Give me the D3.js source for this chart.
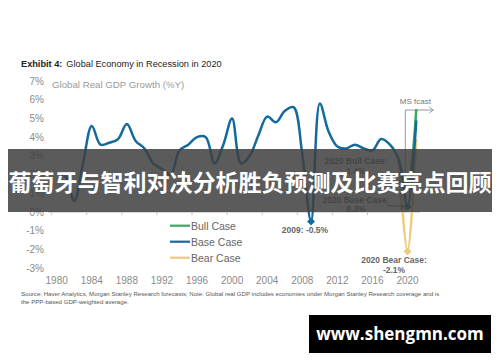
<!DOCTYPE html>
<html>
<head>
<meta charset="utf-8">
<script src="https://cdn.jsdelivr.net/npm/d3@7"></script>
<style>
  body { margin: 0; background: #fff; }
  svg { display: block; font-family: "Liberation Sans", Arial, sans-serif; }
</style>
</head>
<body>
<svg id="chart" width="500" height="362"></svg>
<script>
// history of global real GDP growth, %Y
var years = d3.range(1980, 2020);
var baseHist = [2.1, 1.9, 0.6, 2.6, 4.6, 3.6, 3.7, 3.9, 4.7, 3.8,
                3.4, 2.6, 2.3, 2.0, 3.3, 3.6, 4.0, 4.0, 2.6, 3.6,
                5.0, 2.6, 3.0, 4.1, 5.1, 4.8, 5.4, 5.6, 3.1, -0.5,
                5.8, 4.3, 3.5, 3.4, 3.6, 3.4, 3.3, 3.9, 3.6, 2.8];
// forecast years and the three cases
var fcYears = [2019, 2020, 2021];
var bullCase = [2.8, 1.4, 5.5];
var baseCase = [2.8, 0.3, 4.9];
var bearCase = [2.8, -2.1, 3.9];
var yTicks = [7, 6, 5, 4, 3, 2, 1, 0, -1, -2, -3];
var xTicks = d3.range(1980, 2021, 4);
var legendItems = ["Bull Case", "Base Case", "Bear Case"];
var colors = {bull: "#3aa865", base: "#156a9c", bear: "#eccb7c"};

var svg = d3.select("#chart");

var x = d3.scaleLinear().domain([1980, 2020]).range([56.7, 407.5]);
var y = d3.scaleLinear().domain([-3, 7]).range([268.3, 81]);

// title
var title = svg.append("text").attr("x", 21).attr("y", 67).attr("font-size", 9.2).attr("fill", "#222");
title.append("tspan").attr("font-weight", "bold").text("Exhibit 4:");
title.append("tspan").attr("dx", 4).text("Global Economy in Recession in 2020");

svg.append("text").attr("x", 52).attr("y", 88).attr("font-size", 9.7).attr("fill", "#999")
  .text("Global Real GDP Growth (%Y)");

// y labels
svg.selectAll(".ylab").data(yTicks).enter().append("text")
  .attr("class", "ylab")
  .attr("x", 44).attr("y", function(d) { return y(d) + 3.5; })
  .attr("text-anchor", "end").attr("font-size", 10).attr("fill", "#8a8a8a")
  .text(function(d) { return d + "%"; });

// zero line with ticks
svg.append("line").attr("x1", 48).attr("x2", 420).attr("y1", y(0)).attr("y2", y(0))
  .attr("stroke", "#c4c4c4").attr("stroke-width", 1);
svg.selectAll(".xtick").data(xTicks).enter().append("line")
  .attr("x1", function(d) { return x(d - 0.57); }).attr("x2", function(d) { return x(d - 0.57); })
  .attr("y1", y(0)).attr("y2", y(0) + 3).attr("stroke", "#c4c4c4");

// x labels
svg.selectAll(".xlab").data(xTicks).enter().append("text")
  .attr("x", function(d) { return x(d); }).attr("y", 283.5)
  .attr("text-anchor", "middle").attr("font-size", 10).attr("fill", "#8a8a8a")
  .text(function(d) { return d; });

// MS fcast bracket
var fx = x(2019.75);
svg.append("path")
  .attr("d", "M" + fx + "," + y(0) + "V" + y(5.45) + "H" + (fx + 28))
  .attr("fill", "none").attr("stroke", "#999").attr("stroke-width", 1);
svg.append("path")
  .attr("d", "M" + (fx + 24) + "," + (y(5.45) - 3) + "L" + (fx + 28) + "," + y(5.45) + "L" + (fx + 24) + "," + (y(5.45) + 3))
  .attr("fill", "none").attr("stroke", "#999").attr("stroke-width", 1);
svg.append("text").attr("x", fx + 10).attr("y", 104).attr("text-anchor", "middle")
  .attr("font-size", 8).attr("fill", "#777").text("MS fcast");

var line = d3.line()
  .x(function(d) { return x(d[0]); })
  .y(function(d) { return y(d[1]); })
  .curve(d3.curveCatmullRom.alpha(0.5));

function pairs(xs, ys) { return xs.map(function(v, i) { return [v, ys[i]]; }); }

svg.append("path").datum(pairs(fcYears, bearCase)).attr("d", line)
  .attr("fill", "none").attr("stroke", colors.bear).attr("stroke-width", 2.5);
svg.append("path").datum(pairs(fcYears, bullCase)).attr("d", line)
  .attr("fill", "none").attr("stroke", colors.bull).attr("stroke-width", 2.5);
svg.append("path").datum(pairs(years.concat([2020, 2021]), baseHist.concat(baseCase.slice(1)))).attr("d", line)
  .attr("fill", "none").attr("stroke", colors.base).attr("stroke-width", 2.5);

// diamond markers
var markers = [[2009, -0.5, colors.base], [2020, 0.3, colors.base], [2020, -2.1, colors.bear], [2020, 1.4, colors.bull]];
svg.selectAll(".mk").data(markers).enter().append("path")
  .attr("d", d3.symbol().type(d3.symbolDiamond2).size(40))
  .attr("transform", function(d) { return "translate(" + x(d[0]) + "," + y(d[1]) + ")"; })
  .attr("fill", function(d) { return d[2]; });

// annotations
function note(tx, ty, lines) {
  var t = svg.append("text").attr("x", tx).attr("y", ty).attr("text-anchor", "middle")
    .attr("font-size", 8.5).attr("font-weight", "bold").attr("fill", "#666");
  lines.forEach(function(s, i) { t.append("tspan").attr("x", tx).attr("dy", i ? 9.5 : 0).text(s); });
}
note(305, 232.5, ["2009: -0.5%"]);
note(394, 263, ["2020 Bear Case:", "-2.1%"]);
note(356, 164, ["2020 Bull Case:", "1.4%"]);
note(356, 202.5, ["2020 Base Case:", "0.3%"]);
svg.append("line").attr("x1", 387).attr("x2", 403).attr("y1", 205.5).attr("y2", 206.5)
  .attr("stroke", "#555").attr("stroke-width", 0.8);
svg.append("path").attr("d", "M400,203.8L404,206.6L400,209").attr("fill", "none").attr("stroke", "#555").attr("stroke-width", 0.8);

// legend
var lg = svg.selectAll(".lg").data(legendItems).enter().append("g")
  .attr("transform", function(d, i) { return "translate(170," + (225.7 + i * 16) + ")"; });
lg.append("line").attr("x1", 0).attr("x2", 20).attr("stroke-width", 2.2)
  .attr("stroke", function(d, i) { return [colors.bull, colors.base, colors.bear][i]; });
lg.append("text").attr("x", 21).attr("y", 4).attr("font-size", 10.5).attr("fill", "#666")
  .text(function(d) { return d; });

// source note
var src = svg.append("text").attr("x", 21).attr("y", 296).attr("font-size", 6.1).attr("fill", "#555");
src.append("tspan").attr("x", 21).text("Source: Haver Analytics, Morgan Stanley Research forecasts; Note: Global real GDP includes economies under Morgan Stanley Research coverage and is");
src.append("tspan").attr("x", 21).attr("dy", 7.5).text("the PPP-based GDP-weighted average.");

// overlay banner
svg.append("rect").attr("x", 8).attr("y", 149).attr("width", 484).attr("height", 63)
  .attr("fill", "rgba(62,62,62,0.85)");
svg.append("text").attr("x", 250).attr("y", 191).attr("text-anchor", "middle")
  .attr("font-family", "'Noto Sans CJK SC', sans-serif").attr("font-weight", "bold")
  .attr("font-size", 23).attr("fill", "#fff")
  .text("葡萄牙与智利对决分析胜负预测及比赛亮点回顾");

// site badge
svg.append("rect").attr("x", 309).attr("y", 315).attr("width", 182).attr("height", 38).attr("fill", "#000");
svg.append("text").attr("x", 400).attr("y", 340).attr("text-anchor", "middle")
  .attr("font-family", "'Open Sans', sans-serif").attr("font-weight", "bold")
  .attr("font-size", 17).attr("fill", "#fff").text("www.shengmn.com");
</script>
</body>
</html>
